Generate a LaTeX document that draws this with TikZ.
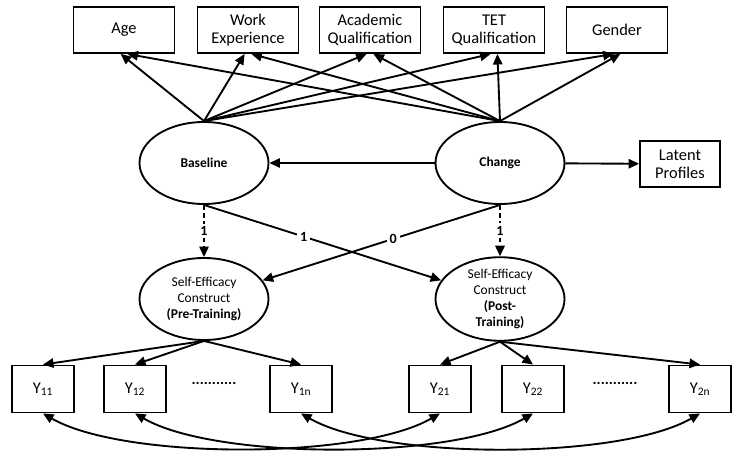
\documentclass[tikz,border=0pt]{standalone}
\usepackage{fontspec}
\setmainfont{Carlito}
\usetikzlibrary{arrows.meta}
\usetikzlibrary{shapes.geometric}

\begin{document}
\begin{tikzpicture}[x=0.03cm,y=-0.03cm,line width=1.6pt,
    >={Triangle[length=9pt,width=8pt]},
    obs/.style={draw,rectangle,minimum width=3.03cm,minimum height=1.38cm,
      align=center,font=\fontsize{14}{15.5}\selectfont},
    item/.style={draw,rectangle,minimum width=1.86cm,minimum height=1.41cm,
      font=\fontsize{14}{15}\selectfont},
    lat/.style={draw,ellipse,minimum width=3.87cm,minimum height=2.46cm,
      inner sep=0pt,align=center,font=\fontsize{11.5}{13.5}\selectfont},
    wt/.style={fill=white,inner sep=2.5pt,font=\bfseries\fontsize{12}{13}\selectfont}]
  \useasboundingbox (0,0) rectangle (732,450);

  % covariates
  \node[obs] (age) at (124,30) {Age};
  \node[obs] (work) at (248,30) {Work\\Experience};
  \node[obs] (acad) at (370,30) {Academic\\Qualification};
  \node[obs] (tet) at (494,30) {TET\\Qualification};
  \node[obs] (gender) at (617,30) {Gender};

  % growth factors
  \node[lat,font=\bfseries\fontsize{11.5}{13}\selectfont] (base) at (204,163) {Baseline};
  \node[lat,font=\bfseries\fontsize{11.5}{13}\selectfont] (change) at (500,163) {Change};
  \node[obs,minimum width=2.4cm] (prof) at (680,164) {Latent\\Profiles};

  % constructs
  \node[lat] (pre) at (204,299) {Self-Efficacy\\Construct\\\textbf{(Pre-Training)}};
  \node[lat] (post) at (500,299) {Self-Efficacy\\Construct\\\textbf{(Post-}\\\textbf{Training)}};

  % items
  \node[item] (y11) at (43,389) {Y\textsubscript{11}};
  \node[item] (y12) at (135,389) {Y\textsubscript{12}};
  \node[font=\bfseries\fontsize{13}{14}\selectfont] (dotsa) at (214,383) {...........};
  \node[item] (y1n) at (301,389) {Y\textsubscript{1n}};
  \node[item] (y21) at (440,389) {Y\textsubscript{21}};
  \node[item] (y22) at (533,389) {Y\textsubscript{22}};
  \node[font=\bfseries\fontsize{13}{14}\selectfont] (dotsb) at (615,383) {...........};
  \node[item] (y2n) at (700,389) {Y\textsubscript{2n}};

  \path[->] (base.north) edge (age.262);
  \path[->] (base.north) edge (work.262);
  \path[->] (base.north) edge (acad.262);
  \path[->] (base.north) edge (tet.262);
  \path[->] (base.north) edge (gender.262);
  \path[->] (change.north) edge (age.278);
  \path[->] (change.north) edge (work.278);
  \path[->] (change.north) edge (acad.278);
  \path[->] (change.north) edge (tet.278);
  \path[->] (change.north) edge (gender.278);

  \path[->] (change) edge (base);
  \path[->] (change) edge (prof);

  \path[->,dash pattern=on 4pt off 3pt] (base.south) edge node[wt] {1} (pre.north);
  \path[->,dash pattern=on 4pt off 3pt] (change.south) edge node[wt] {1} (post.north);
  \path[->] (base.south) edge node[wt,pos=0.42] {1} (post);
  \path[->] (change.south) edge node[wt,pos=0.45] {0} (pre);

  \path[->] (pre.south) edge (y11.north);
  \path[->] (pre.south) edge (y12.north);
  \path[->] (pre.south) edge (y1n.north);
  \path[->] (post.south) edge (y21.north);
  \path[->] (post.south) edge (y22.north);
  \path[->] (post.south) edge (y2n.north);

  \path[<->,out=-30,in=-150,looseness=0.6] (y11.south) edge (y21.south);
  \path[<->,out=-30,in=-150,looseness=0.6] (y12.south) edge (y22.south);
  \path[<->,out=-30,in=-150,looseness=0.6] (y1n.south) edge (y2n.south);
\end{tikzpicture}
\end{document}
